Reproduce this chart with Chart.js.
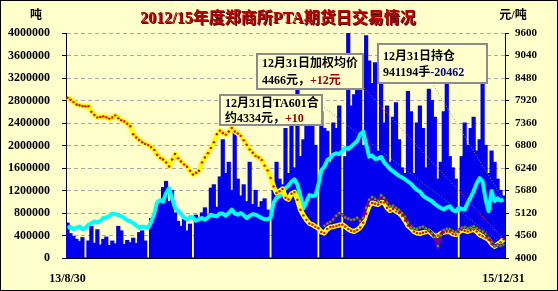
<!DOCTYPE html>
<html>
<head>
<meta charset="utf-8">
<title>2012/15年度郑商所PTA期货日交易情况</title>
<script src="https://cdn.jsdelivr.net/npm/chart.js@4.4.0/dist/chart.umd.min.js"></script>
<style>
  html, body { margin: 0; padding: 0; background: #ffffcc; }
  canvas { display: block; }
</style>
</head>
<body>
<canvas id="chart" width="558" height="291"></canvas>
<script>
// daily volume, thousand tons (left axis)
const volume = [
    620, 430, 380, 330, 290, 360, 0,
    300, 560, 260, 500, 230, 330, 370, 220, 300, 250, 560, 480, 240, 310, 270, 350, 260, 450, 480, 300,
    0,
    700, 760, 900, 1000, 1250, 1360, 1000, 1200, 800, 650, 560, 680, 480, 600,
    0,
    760, 720, 800, 890, 760, 1240, 1300, 900, 1440, 2100, 1500, 1700, 1200, 2250, 1400, 1100, 1300, 1000, 1700, 950, 1200, 900, 1000, 1050, 850,
    0,
    1200, 1700, 1400, 1300, 2300, 1500, 2370, 1600, 3300, 1800, 2100, 2400, 2550, 2600, 2000,
    0,
    2600, 2300, 2250, 1700, 2400, 2300, 2700,
    0,
    1800, 4000, 2700, 2900, 3100, 3500, 2000, 3950, 3500, 3100, 3470, 1900, 3220, 2400, 2700, 1700, 2500, 2760, 2100, 1600,
    1500, 2960, 2600, 1500, 2400, 2700, 2300, 1600, 3000, 2800, 2500, 1400, 1700, 2600, 3500, 1800, 1600, 1400,
    0,
    1800, 2400, 2000, 2300, 2500, 1900, 2100, 3600, 2000, 1500, 1900, 1700, 1400, 1200, 1100
];

// open interest, thousand (left axis)
const openInterest = [
    540, 550, 510, 540, 560, 510, 530, 590, 620, 650,
    630, 660, 710, 720, 745, 790, 780, 760, 740, 710,
    670, 650, 620, 580, 535, 560, 550, 535, 640, 780,
    990, 1030, 1000, 1150, 1240, 1060, 890, 840, 780, 720,
    680, 730, 720, 660, 690, 710, 680, 720, 770, 750,
    740, 790, 790, 750, 800, 860, 790, 770, 800, 760,
    710, 750, 780, 770, 740, 710, 690, 690, 720, 980,
    1070, 1100, 1160, 1240, 1290, 1360, 1400, 1300, 1100, 880,
    1000, 1120, 1100, 1110, 1300, 1560, 1620, 1740, 1780, 1840,
    1860, 1850, 1900, 1960, 1940, 1980, 2030, 2080, 2200, 2250,
    2020, 1800, 1820, 1760, 1770, 1800, 1700, 1640, 1580, 1540,
    1500, 1460, 1430, 1400, 1360, 1320, 1260, 1210, 1180, 1110,
    1070, 1040, 1010, 960, 920, 890, 860, 900, 920, 850,
    830, 890, 870, 860, 980, 1080, 1190, 1330, 1420, 1360,
    1036, 830, 1190, 1010, 1060, 1020, 1036
];

// weighted average price, yuan/ton (right axis)
const avgPrice = [
    7990, 7940, 7880, 7820, 7800, 7780, 7775, 7780, 7640, 7560,
    7500, 7510, 7525, 7500, 7470, 7500, 7550, 7480, 7430, 7400,
    7340, 7280, 7080, 7000, 6940, 6880, 6840, 6810, 6760, 6690,
    6570, 6490, 6450, 6380, 6280, 6450, 6590, 6480, 6400, 6330,
    6270, 6170, 6080, 6120, 6170, 6380, 6500, 6610, 6740, 6880,
    7080, 7170, 7110, 7070, 7150, 7235, 7150, 7100, 7040, 6930,
    6820, 6700, 6620, 6540, 6500, 6440, 6300, 6180, 5990, 5780,
    5620, 5660, 5720, 5500, 5460, 5600, 5640, 5450, 5200, 5060,
    4950, 4860, 4830, 4780, 4740, 4650, 4620, 4720, 4770, 4780,
    4800, 4820, 4830, 4780, 4720, 4680, 4660, 4700, 4760, 4880,
    5100, 5300, 5370, 5350, 5330, 5390, 5380, 5250, 5180, 5220,
    5160, 5120, 5050, 4930, 4800, 4740, 4660, 4620, 4610, 4630,
    4650, 4670, 4600, 4540, 4560, 4610, 4640, 4660, 4650, 4600,
    4580, 4640, 4700, 4680, 4660, 4690, 4710, 4660, 4580, 4540,
    4500, 4460, 4350, 4290, 4340, 4390, 4466
];

// TA601 contract price, listed later (right axis)
const ta601 = [
    4800, 4860, 4900, 4960,
    5050, 5120, 5080, 5010, 4980, 4950, 4960, 5000, 4920, 5000,
    5250, 5450, 5520, 5470, 5420, 5560, 5500, 5380, 5290, 5300,
    5250, 5200, 5120, 5030, 4880, 4760, 4740, 4720, 4760, 4780,
    4740, 4700, 4620, 4520, 4300, 4560, 4700, 4730, 4720, 4680,
    4650, 4700, 4750, 4770, 4740, 4760, 4790, 4750, 4700, 4660,
    4600, 4500, 4400, 4300, 4320, 4300, 4334
];

const dateTicks = ['13/8/30', '15/12/31'];
const labels = volume.map((v, i) => i);
const ta601Full = Array(volume.length - ta601.length).fill(null).concat(ta601);

const SERIF = '"Liberation Serif", "Noto Sans CJK SC", serif';
const BG = '#ffffcc';

// dotted line from a note box to the last point of a series
function leader(c, x0, y0, x1, y1, color) {
    c.strokeStyle = color;
    c.beginPath();
    c.moveTo(x0, y0);
    c.lineTo(x1, y1);
    c.stroke();
}

function noteBox(c, x, y, w, h, rows) {
    c.fillStyle = BG;
    c.fillRect(x, y, w, h);
    c.strokeStyle = '#8c8c8c';
    c.lineWidth = 2;
    c.strokeRect(x, y, w, h);
    c.font = 'bold 12px ' + SERIF;
    c.textBaseline = 'middle';
    c.textAlign = 'left';
    rows.forEach(r => {
        let tx = x + 5;
        r.parts.forEach(p => {
            c.fillStyle = p[1];
            c.fillText(p[0], tx, r.y);
            tx += c.measureText(p[0]).width;
        });
    });
}

const decor = {
    id: 'decor',
    beforeDraw(chart) {
        const c = chart.ctx;
        c.save();
        c.fillStyle = BG;
        c.fillRect(0, 0, chart.width, chart.height);
        c.restore();
    },
    afterDatasetsDraw(chart) {
        const c = chart.ctx;
        const xs = chart.scales.x, yL = chart.scales.y, yR = chart.scales.y1;
        const last = volume.length - 1;
        const xe = xs.getPixelForValue(last);

        c.save();
        c.lineWidth = 1;
        c.setLineDash([1, 2]);
        leader(c, 322, 106, xe, yR.getPixelForValue(ta601[ta601.length - 1]), '#3aa0a0');
        leader(c, 362, 86, xe, yR.getPixelForValue(avgPrice[last]), '#ff5050');
        leader(c, 432, 83, xe, yL.getPixelForValue(openInterest[last]), '#66cc66');
        c.setLineDash([]);

        noteBox(c, 220, 95, 102, 30, [
            { y: 104, parts: [['12月31日TA601合', '#000']] },
            { y: 119, parts: [['约4334元，', '#000'], ['+10', '#a00000']] }
        ]);
        noteBox(c, 257, 54, 106, 35, [
            { y: 63.5, parts: [['12月31日加权均价', '#000']] },
            { y: 80.5, parts: [['4466元，', '#000'], ['+12元', '#a00000']] }
        ]);
        noteBox(c, 378, 44, 109, 39, [
            { y: 57, parts: [['12月31日持仓', '#000']] },
            { y: 72.5, parts: [['941194手', '#000'], ['-20462', '#000080']] }
        ]);
        c.restore();
    },
    afterDraw(chart) {
        const c = chart.ctx;
        c.save();
        c.textAlign = 'center';
        c.textBaseline = 'middle';
        c.font = 'bold 16px ' + SERIF;
        c.shadowColor = '#500000';
        c.shadowOffsetX = 1;
        c.shadowOffsetY = 1;
        c.fillStyle = '#c00000';
        c.fillText('2012/15年度郑商所PTA期货日交易情况', 278, 19);
        c.shadowColor = 'transparent';
        c.fillStyle = '#000';
        c.font = 'bold 12px ' + SERIF;
        c.fillText('吨', 36, 16);
        c.fillText('元/吨', 513, 16);
        c.strokeStyle = '#000';
        c.lineWidth = 1;
        c.strokeRect(0.5, 0.5, chart.width - 1, chart.height - 1);
        c.restore();
    }
};

const tickFont = { family: SERIF, size: 12, weight: 'bold' };

const ctx = document.getElementById('chart').getContext('2d');
const chart = new Chart(ctx, {
    type: 'bar',
    data: {
        labels: labels,
        datasets: [
            {
                type: 'bar',
                label: '成交量',
                data: volume,
                yAxisID: 'y',
                backgroundColor: '#0000ee',
                borderWidth: 0,
                barPercentage: 1,
                categoryPercentage: 1,
                inflateAmount: 0.6,
                order: 4
            },
            {
                type: 'line',
                label: '持仓',
                data: openInterest,
                yAxisID: 'y',
                borderColor: '#00ffff',
                borderWidth: 4,
                borderJoinStyle: 'round',
                pointRadius: 0,
                tension: 0,
                order: 3
            },
            {
                type: 'line',
                label: '加权均价',
                data: avgPrice,
                yAxisID: 'y1',
                borderColor: '#ffff00',
                borderWidth: 5,
                borderJoinStyle: 'round',
                pointRadius: 1.2,
                pointBackgroundColor: '#e00000',
                pointBorderWidth: 0,
                tension: 0,
                order: 2
            },
            {
                type: 'line',
                label: 'TA601',
                data: ta601Full,
                yAxisID: 'y1',
                borderColor: '#800080',
                borderWidth: 3,
                pointRadius: 1.2,
                pointBackgroundColor: '#22bb22',
                pointBorderWidth: 0,
                tension: 0,
                order: 1
            }
        ]
    },
    options: {
        responsive: false,
        animation: false,
        devicePixelRatio: 1,
        layout: { padding: { top: 33, left: 0, right: 0, bottom: 0 } },
        plugins: {
            legend: { display: false },
            tooltip: { enabled: false }
        },
        scales: {
            x: {
                offset: true,
                grid: { display: false, drawTicks: false },
                border: { display: true, color: '#000' },
                ticks: {
                    autoSkip: false,
                    maxRotation: 0,
                    padding: 14,
                    color: '#000',
                    font: tickFont,
                    callback: (v, i) => i === 0 ? dateTicks[0] : (i === labels.length - 1 ? dateTicks[1] : '')
                },
                afterFit: s => { s.height = 33; }
            },
            y: {
                position: 'left',
                min: 0,
                max: 4000,
                ticks: {
                    stepSize: 400,
                    padding: 12,
                    color: '#000',
                    font: tickFont,
                    callback: v => String(v * 1000)
                },
                grid: { color: '#a8a8a8', tickLength: 4, tickColor: '#000' },
                border: { color: '#000', dash: [4, 3] },
                afterFit: s => { s.width = 66; }
            },
            y1: {
                position: 'right',
                min: 4000,
                max: 9600,
                ticks: {
                    stepSize: 560,
                    padding: 6,
                    color: '#000',
                    font: { family: SERIF, size: 11, weight: 'bold' },
                    callback: v => String(v)
                },
                grid: { drawOnChartArea: false, tickLength: 4, tickColor: '#000' },
                border: { color: '#000' },
                afterFit: s => { s.width = 53; }
            }
        }
    },
    plugins: [decor]
});
</script>
</body>
</html>
